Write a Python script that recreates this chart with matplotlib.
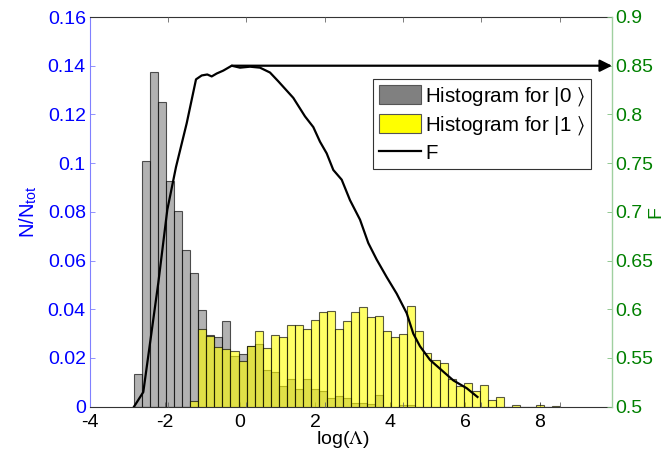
import numpy as np
import matplotlib
matplotlib.use("Agg")
import matplotlib.pyplot as plt
from matplotlib.patches import Patch
from matplotlib.lines import Line2D
from matplotlib.ticker import FuncFormatter

plt.rcParams['font.family'] = ['Liberation Sans', 'DejaVu Sans']
plt.rcParams['mathtext.fontset'] = 'stix'

# ---------------- data ----------------
bin_start = -2.827
bin_width = 0.2144

hist0 = [0.0136, 0.1009, 0.1373, 0.1250, 0.0926, 0.0804, 0.0645, 0.0548, 0.0396, 0.0296,
         0.0288, 0.0351, 0.0210, 0.0217, 0.0250, 0.0256, 0.0151, 0.0141, 0.0085, 0.0115,
         0.0074, 0.0115, 0.0073, 0.0063, 0.0034, 0.0044, 0.0034, 0.0014, 0.0014, 0.0012,
         0.0047, 0.0000, 0.0000, 0.0005, 0.0008, 0.0000, 0.0000, 0.0000, 0.0000, 0.0000,
         0.0000, 0.0000, 0.0000, 0.0000, 0.0000, 0.0000, 0.0000, 0.0000, 0.0000, 0.0000,
         0.0000, 0.0000, 0.0000]

hist1 = [0.0000, 0.0000, 0.0000, 0.0000, 0.0000, 0.0000, 0.0000, 0.0025, 0.0318, 0.0289,
         0.0246, 0.0236, 0.0229, 0.0186, 0.0248, 0.0310, 0.0240, 0.0295, 0.0285, 0.0335,
         0.0335, 0.0320, 0.0358, 0.0388, 0.0392, 0.0321, 0.0351, 0.0388, 0.0408, 0.0367,
         0.0371, 0.0310, 0.0285, 0.0297, 0.0413, 0.0310, 0.0220, 0.0192, 0.0180, 0.0115,
         0.0085, 0.0099, 0.0063, 0.0088, 0.0026, 0.0038, 0.0000, 0.0006, 0.0000, 0.0000,
         0.0006, 0.0000, 0.0003]

F_x = [-2.827, -2.579, -2.400, -2.179, -1.939, -1.707, -1.421, -1.261, -1.173, -1.021,
       -0.872, -0.755, -0.621, -0.445, -0.221, 0.000, 0.267, 0.533, 0.800, 1.021,
       1.421, 1.733, 1.955, 2.133, 2.312, 2.488, 2.712, 2.933, 3.200, 3.421,
       3.645, 3.912, 4.179, 4.445, 4.621, 4.800, 5.067, 5.421, 5.688, 6.045, 6.333]
F_y = [0.500, 0.515, 0.565, 0.627, 0.702, 0.746, 0.791, 0.820, 0.836, 0.840,
       0.841, 0.839, 0.842, 0.845, 0.850, 0.848, 0.849, 0.848, 0.843, 0.834,
       0.817, 0.798, 0.787, 0.772, 0.760, 0.743, 0.733, 0.712, 0.692, 0.668,
       0.651, 0.633, 0.616, 0.596, 0.575, 0.562, 0.548, 0.536, 0.527, 0.519, 0.510]

F_max_x = -0.221
F_max = 0.85

labels = ['Histogram for |0 $\\rangle$', 'Histogram for |1 $\\rangle$', 'F']

xlim = (-4, 9.92)
ylim_left = (0, 0.16)
ylim_right = (0.5, 0.9)

# ---------------- figure ----------------
W, H = 665, 458
fig = plt.figure(figsize=(W / 100, H / 100), dpi=100)
pos = [90 / W, 1 - 406.7 / H, 522 / W, 389.7 / H]
ax = fig.add_axes(pos)
ax2 = fig.add_axes(pos, facecolor='none')

edges = bin_start + bin_width * np.arange(len(hist0))
ax.bar(edges, hist0, width=bin_width, align='edge',
       color=(0.5, 0.5, 0.5, 0.6), edgecolor=(0, 0, 0, 0.65), lw=0.8, zorder=2)
ax.bar(edges, hist1, width=bin_width, align='edge',
       color=(1, 1, 0, 0.6), edgecolor=(0, 0, 0, 0.65), lw=0.8, zorder=3)
ax.set_axisbelow(True)

ax.set_xlim(*xlim)
ax.set_ylim(*ylim_left)
ax.set_xticks(np.arange(-4, 9, 2))
ax.set_yticks(np.round(np.arange(0, 0.1601, 0.02), 2))
fmt = FuncFormatter(lambda v, p: f'{v:g}')
ax.xaxis.set_major_formatter(fmt)
ax.yaxis.set_major_formatter(fmt)
ax.tick_params(axis='x', direction='in', length=3.6, width=0.6, colors='#333333',
               labelcolor='black', labelsize=14, pad=5, top=False)
ax.tick_params(axis='y', direction='in', length=3.6, width=0.6, colors='#8080ff',
               labelcolor='blue', labelsize=14, pad=3, right=False)
ax.spines['left'].set_color('#8080ff')
ax.spines['right'].set_visible(False)
ax.spines['top'].set_color('#333333')
ax.spines['bottom'].set_color('#333333')
for s in ax.spines.values():
    s.set_linewidth(0.8)

ax.set_xlabel('log($\\mathrm{\\Lambda}$)', fontsize=14)
ax.xaxis.set_label_coords(0.485, -0.058)
ax.set_ylabel('N/N$_{\\mathregular{tot}}$', fontsize=14.5, color='blue')
ax.yaxis.set_label_coords(-0.097, 0.5)

# right axis with F
ax2.plot(F_x, F_y, color='black', lw=1.6, zorder=3)
ax2.annotate('', xy=(xlim[1], F_max), xytext=(F_max_x, F_max),
             arrowprops=dict(arrowstyle='-|>', color='black', lw=1.6,
                             mutation_scale=18, shrinkA=0, shrinkB=0))
ax2.set_xlim(*xlim)
ax2.set_ylim(*ylim_right)
ax2.yaxis.tick_right()
ax2.yaxis.set_label_position('right')
ax2.set_yticks(np.round(np.arange(0.5, 0.9001, 0.05), 2))
ax2.yaxis.set_major_formatter(fmt)
ax2.set_xticks(np.linspace(-1.93, 8.53, 6))
ax2.set_xticklabels([])
ax2.tick_params(axis='x', direction='in', length=3.6, width=0.6, colors='#666666',
                top=True, bottom=True)
ax2.tick_params(axis='y', direction='in', length=3.6, width=0.6, colors='#80c080',
                labelcolor='green', labelsize=14, pad=2, left=False, right=True)
for k in ['left', 'top', 'bottom']:
    ax2.spines[k].set_visible(False)
ax2.spines['right'].set_color('#a0d0a0')
ax2.spines['right'].set_linewidth(1.0)
ax2.set_ylabel('F', fontsize=14, color='green')
ax2.yaxis.set_label_coords(1.067, 0.5)

handles = [Patch(facecolor='#808080', edgecolor='#555555', lw=0.8),
           Patch(facecolor='#ffff00', edgecolor='#555555', lw=0.8),
           Line2D([], [], color='black', lw=1.6)]
leg = ax2.legend(handles, labels, loc='upper right', bbox_to_anchor=(0.9598, 0.841),
                 borderaxespad=0, fontsize=14.8, fancybox=False, frameon=True,
                 handlelength=2.0, handleheight=1.05, handletextpad=0.22,
                 labelspacing=0.28, borderpad=0.3, framealpha=1)
leg.get_frame().set_edgecolor('#333333')
leg.get_frame().set_linewidth(0.8)

fig.savefig('out.png', dpi=100)
